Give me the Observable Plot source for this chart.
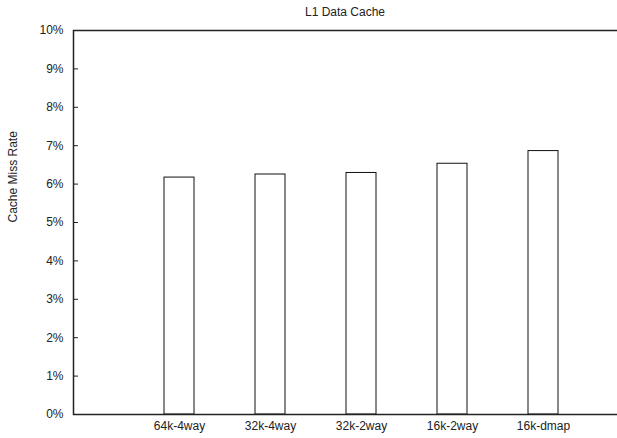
<!DOCTYPE html>
<html>
<head>
<meta charset="utf-8">
<script src="https://cdn.jsdelivr.net/npm/d3@7"></script>
<script src="https://cdn.jsdelivr.net/npm/@observablehq/plot@0.6"></script>
<style>
  html, body { margin: 0; padding: 0; background: #fff; }
  #chart { position: relative; width: 617px; height: 438px; }
  #title {
    position: absolute; left: 73px; right: 0; top: 5px; z-index: 1;
    text-align: center; font: 12px "Liberation Sans", Arial, sans-serif; color: #222;
  }
  #chart svg { position: absolute; left: 0; top: 0; }
</style>
</head>
<body>
<div id="chart"><div id="title">L1 Data Cache</div></div>
<script>
// L1 data cache configurations and their measured miss rates
const configs = ["64k-4way", "32k-4way", "32k-2way", "16k-2way", "16k-dmap"];
const missRate = [0.0617, 0.0625, 0.0629, 0.0653, 0.0686];
const yTicks = [0, 0.01, 0.02, 0.03, 0.04, 0.05, 0.06, 0.07, 0.08, 0.09, 0.10];

const data = configs.map((c, i) => ({config: c, rate: missRate[i]}));
const font = '"Liberation Sans", Arial, sans-serif';

const plot = Plot.plot({
  width: 617,
  height: 438,
  marginLeft: 73,
  marginRight: 0,
  marginTop: 30,
  marginBottom: 24,
  style: {fontFamily: font, fontSize: "12px", color: "#222", background: "transparent"},
  x: {domain: configs, range: [163.3, 558.1], paddingInner: 0.667, paddingOuter: 0, align: 0.5},
  y: {domain: [0, 0.10]},
  marks: [
    Plot.rectY(data, {x: "config", y: "rate", fill: "#fff", stroke: "#111", strokeWidth: 1}),
    // open frame: left, top and bottom edges; the right edge sits past the canvas
    Plot.frame({stroke: "#222", strokeWidth: 1.5, insetRight: -4}),
    Plot.axisY({
      ticks: yTicks,
      tickFormat: d => Math.round(d * 100) + "%",
      tickSize: -5,
      tickPadding: 15,
      stroke: "#222",
      fontSize: 12,
      label: null
    }),
    Plot.text(["Cache Miss Rate"], {
      frameAnchor: "left", dx: -60, rotate: -90, fontSize: 12, fill: "#222"
    }),
    Plot.axisX({tickSize: 0, tickPadding: 7, fontSize: 12, label: null})
  ]
});
document.getElementById("chart").appendChild(plot);
</script>
</body>
</html>
